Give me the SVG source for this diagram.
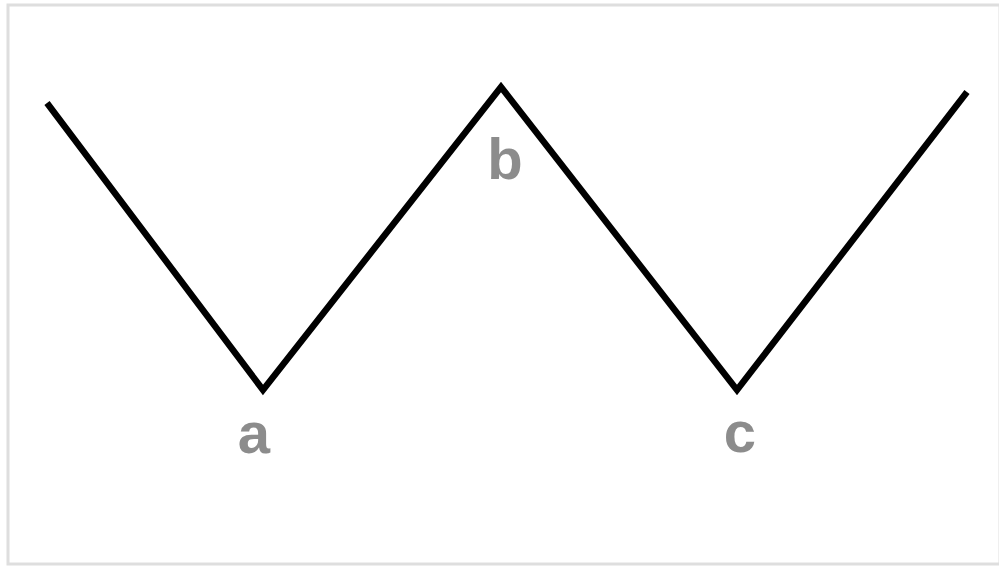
<svg xmlns="http://www.w3.org/2000/svg" width="999" height="569" viewBox="0 0 999 569">
<style>
.lbl{font-family:"Liberation Sans",Arial,sans-serif;font-weight:bold;font-size:58px;fill:#8c8c8c;text-anchor:middle}
.zig{fill:none;stroke:#000;stroke-width:6.5;stroke-linejoin:miter;stroke-miterlimit:10}
</style>
<rect x="0" y="0" width="999" height="569" fill="#fff"/>
<rect x="8" y="5" width="992" height="559" fill="#fff" stroke="#dedede" stroke-width="3"/>
<g id="connectors">
<polyline class="zig" points="47,103 263,390 501,87 737,390 967,92"/>
</g>
<g id="node-a"><text class="lbl" x="254" y="453">a</text></g>
<g id="node-b"><text class="lbl" x="505" y="179">b</text></g>
<g id="node-c"><text class="lbl" x="740" y="452">c</text></g>
</svg>
